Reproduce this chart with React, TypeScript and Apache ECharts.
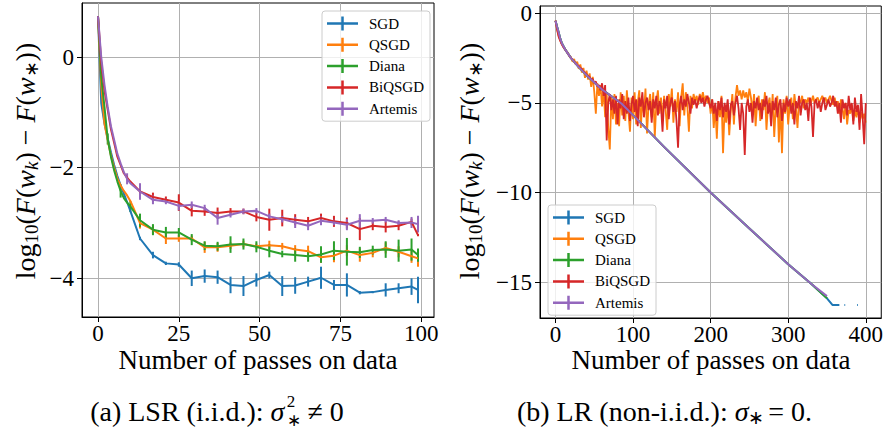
import React, { useEffect, useRef } from 'react';
import * as echarts from 'echarts';

const names = ['SGD', 'QSGD', 'Diana', 'BiQSGD', 'Artemis'];
const colors = ['#1f77b4', '#ff7f0e', '#2ca02c', '#d62728', '#9467bd'];

// ---------- (a) LSR (i.i.d.) ----------
const passesA = [0, 1, 2, 3, 4, 5, 6, 7, 8, 9, 10, 13, 17, 21, 25, 29, 33, 37, 41, 45, 49, 53, 57, 61, 65, 69, 73, 77, 81, 85, 89, 93, 97, 99];
const sgdA = [0.74, -0.83, -1.2, -1.47, -1.72, -1.95, -2.15, -2.32, -2.47, -2.62, -2.78, -3.28, -3.58, -3.73, -3.75, -4.0, -3.96, -3.98, -4.12, -4.14, -4.03, -3.94, -4.14, -4.13, -4.06, -3.99, -4.12, -4.12, -4.26, -4.25, -4.21, -4.18, -4.15, -4.21];
const sgdErrA = [0, 0, 0, 0, 0, 0, 0, 0, 0, 0, 0, 0.03, 0.06, 0.03, 0.04, 0.14, 0.12, 0.12, 0.15, 0.18, 0.12, 0.06, 0.18, 0.15, 0.09, 0.2, 0.09, 0.21, 0.03, 0.02, 0.12, 0.09, 0.15, 0.24];
const qsgdA = [0.74, -0.5, -1.2, -1.5, -1.78, -2.0, -2.2, -2.32, -2.42, -2.5, -2.6, -3.0, -3.12, -3.28, -3.28, -3.28, -3.44, -3.44, -3.41, -3.38, -3.42, -3.4, -3.42, -3.48, -3.51, -3.62, -3.59, -3.5, -3.58, -3.54, -3.45, -3.52, -3.6, -3.64];
const qsgdErrA = [0, 0, 0, 0, 0, 0, 0, 0, 0, 0, 0, 0.1, 0.08, 0.1, 0.06, 0.05, 0.1, 0.08, 0.06, 0.06, 0.05, 0.08, 0.06, 0.08, 0.1, 0.1, 0.12, 0.1, 0.12, 0.08, 0.1, 0.1, 0.12, 0.15];
const dianaA = [0.74, -0.35, -0.9, -1.48, -1.8, -2.05, -2.25, -2.42, -2.55, -2.63, -2.7, -2.95, -3.12, -3.17, -3.17, -3.3, -3.41, -3.42, -3.39, -3.38, -3.43, -3.5, -3.56, -3.58, -3.6, -3.57, -3.5, -3.52, -3.53, -3.49, -3.48, -3.5, -3.48, -3.58];
const dianaErrA = [0, 0, 0, 0.1, 0, 0, 0, 0.12, 0, 0, 0.1, 0.12, 0.1, 0.1, 0.08, 0.1, 0.08, 0.08, 0.15, 0.1, 0.1, 0.12, 0.06, 0.12, 0.1, 0.15, 0.17, 0.25, 0.1, 0.08, 0.15, 0.2, 0.2, 0.12];
const biqsgdA = [0.74, -0.1, -0.6, -0.95, -1.3, -1.55, -1.8, -1.95, -2.1, -2.18, -2.25, -2.43, -2.53, -2.58, -2.63, -2.78, -2.79, -2.82, -2.79, -2.79, -2.89, -2.94, -2.91, -2.94, -2.97, -2.91, -2.97, -3.0, -3.11, -3.05, -3.07, -3.05, -2.98, -3.22];
const biqsgdErrA = [0, 0, 0, 0, 0, 0, 0, 0, 0, 0, 0, 0.1, 0.08, 0.06, 0.15, 0.1, 0.08, 0.1, 0.06, 0.05, 0.08, 0.2, 0.15, 0.1, 0.08, 0.08, 0.1, 0.1, 0.2, 0.08, 0.1, 0.08, 0.06, 0.02];
const artemisA = [0.74, 0.0, -0.5, -0.9, -1.25, -1.5, -1.75, -1.92, -2.08, -2.2, -2.28, -2.43, -2.58, -2.61, -2.69, -2.67, -2.73, -2.91, -2.85, -2.79, -2.78, -2.88, -2.93, -2.99, -3.05, -2.96, -2.99, -3.03, -2.96, -2.96, -2.94, -3.0, -2.99, -3.02];
const artemisErrA = [0, 0, 0, 0, 0, 0, 0, 0, 0, 0.1, 0, 0.15, 0.08, 0.05, 0.08, 0.06, 0.06, 0.12, 0.05, 0.05, 0.05, 0.05, 0.06, 0.1, 0.08, 0.08, 0.05, 0.1, 0.12, 0.05, 0.05, 0.05, 0.1, 0.15];
const xTicksA = [0, 25, 50, 75, 100];
const yTicksA = [-4, -2, 0];

// ---------- (b) LR (non-i.i.d.) ----------
const passesB = [0, 2, 4, 6, 8, 12, 20, 30, 42, 60, 85, 100, 140, 200, 250, 300, 330, 350];
const dianaB = [-0.41, -0.75, -1.05, -1.4, -1.65, -1.98, -2.5, -3.0, -3.54, -4.25, -5.03, -5.68, -7.45, -10.0, -12.0, -14.0, -15.1, -15.9];
const artemisB = [-0.41, -0.75, -1.05, -1.4, -1.65, -1.98, -2.5, -3.0, -3.54, -4.25, -5.03, -5.68, -7.45, -10.0, -12.0, -14.0, -15.1, -15.78];
const passesSgdB = [0, 2, 4, 6, 8, 12, 20, 30, 42, 60, 85, 100, 140, 200, 250, 300, 330, 350, 357, 366, 369, 372.5, 373.5, 380, 389, 390];
const sgdB = [-0.41, -0.75, -1.05, -1.4, -1.65, -1.98, -2.5, -3.0, -3.54, -4.25, -5.03, -5.68, -7.45, -10.0, -12.0, -14.0, -15.1, -15.9, -16.27, -16.27, null, -16.27, -16.27, null, -16.27, -16.27];
const noisyStepB = 2; // passes between logged values of QSGD / BiQSGD (0..400)
const qsgdB = [
  -0.41, -0.88, -1.25, -1.5, -1.7, -1.85, -1.98, -2.1, -2.2, -2.38,
  -2.45, -2.7, -2.55, -2.85, -2.7, -3.1, -2.85, -3.3, -3.05, -3.6,
  -3.2, -3.7, -3.35, -4.1, -3.55, -4.4, -5.6, -3.9, -4.6, -4.0,
  -5.2, -4.2, -5.8, -4.5, -6.4, -7.6, -4.6, -5.9, -4.5, -6.2,
  -5.0, -6.3, -4.4, -5.7, -4.6, -6.0, -4.3, -5.5, -6.6, -4.7,
  -5.9, -4.4, -6.2, -5.0, -4.3, -6.4, -4.8, -5.6, -4.2, -6.7,
  -5.1, -4.5, -5.8, -4.4, -6.9, -5.0, -4.3, -5.6, -4.7, -6.0,
  -4.6, -5.4, -6.5, -4.5, -5.2, -4.2, -6.1, -4.8, -5.5, -4.4,
  -6.3, -4.7, -3.9, -5.7, -4.4, -5.2, -6.6, -4.6, -5.3, -4.5,
  -4.9, -4.6, -5.1, -4.5, -4.8, -4.4, -4.9, -4.6, -5.0, -4.7,
  -5.6, -4.8, -6.4, -5.2, -7.0, -4.9, -5.8, -4.6, -7.8, -5.3,
  -6.1, -5.0, -6.8, -5.4, -4.5, -6.2, -4.7, -4.0, -4.6, -4.3,
  -4.8, -4.3, -4.7, -4.4, -4.9, -4.2, -4.7, -5.5, -4.5, -6.3,
  -5.0, -4.6, -6.0, -4.8, -5.4, -4.4, -6.5, -5.1, -4.7, -5.8,
  -4.5, -6.9, -5.2, -4.6, -7.2, -5.0, -7.8, -4.8, -5.6, -4.6,
  -6.2, -5.1, -4.7, -5.9, -4.5, -5.3, -6.4, -4.8, -5.0, -4.6,
  -5.3, -4.8, -5.0, -4.7, -5.1, -4.9, -4.6, -5.0, -4.8, -4.7,
  -5.0, -4.8, -4.6, -4.9, -4.7, -5.0, -4.8, -4.6, -4.9, -5.1,
  -4.7, -5.2, -4.9, -5.6, -4.8, -5.3, -5.9, -5.0, -6.2, -5.4,
  -5.6, -5.1, -6.0, -5.4, -5.8, -5.2, -6.1, -5.5, -5.9, -5.6,
  -6.1,
];
const biqsgdB = [
  -0.41, -0.9, -1.3, -1.52, -1.72, -1.88, -2.0, -2.12, -2.25, -2.38,
  -2.5, -2.6, -2.68, -2.8, -2.88, -2.95, -3.05, -3.1, -3.25, -3.3,
  -3.42, -3.5, -3.55, -3.7, -3.65, -3.9, -3.8, -4.1, -4.0, -4.3,
  -3.9, -4.6, -4.0, -7.1, -5.0, -4.5, -5.4, -4.8, -5.6, -4.6,
  -6.2, -4.8, -5.3, -4.5, -5.9, -4.9, -5.6, -4.7, -6.0, -5.1,
  -4.6, -5.5, -4.8, -6.3, -4.7, -5.2, -4.4, -5.8, -5.0, -4.7,
  -5.4, -4.9, -6.1, -4.8, -5.3, -4.6, -5.7, -4.9, -5.2, -6.6,
  -4.8, -5.3, -4.6, -5.9, -5.0, -4.7, -5.5, -4.9, -6.0, -7.5,
  -5.1, -4.6, -5.4, -4.8, -5.2, -4.5, -5.0, -5.6, -4.7, -5.1,
  -4.8, -5.3, -4.9, -4.6, -5.0, -4.7, -5.2, -4.8, -4.6, -5.0,
  -5.3, -4.8, -5.6, -5.0, -6.0, -4.9, -5.4, -4.7, -5.8, -5.0,
  -5.5, -4.8, -6.2, -5.1, -4.9, -5.7, -5.0, -4.6, -5.3, -6.5,
  -5.0, -5.6, -7.9, -5.2, -4.8, -5.5, -5.0, -6.1, -4.9, -5.3,
  -4.7, -5.4, -5.0, -5.9, -4.8, -5.2, -4.6, -5.6, -5.0, -6.3,
  -4.9, -5.4, -4.7, -5.8, -5.1, -4.8, -6.0, -5.0, -5.5, -4.7,
  -5.2, -4.8, -5.6, -5.0, -6.2, -4.9, -5.3, -4.6, -5.7, -5.0,
  -4.8, -5.4, -5.0, -6.0, -4.7, -5.2, -6.9, -5.0, -4.8, -5.3,
  -4.9, -5.5, -5.0, -4.7, -5.4, -5.1, -4.8, -5.2, -5.0, -4.6,
  -5.2, -4.9, -5.6, -5.0, -6.1, -4.8, -5.3, -5.0, -5.7, -4.6,
  -5.4, -5.0, -6.2, -4.7, -5.5, -5.1, -6.5, -4.5, -5.8, -7.3,
  -5.0,
];
const xTicksB = [0, 100, 200, 300, 400];
const yTicksB = [-15, -10, -5, 0];

const SERIF = 'Liberation Serif';

function fmt(v: number) {
  return v < 0 ? '\u2212' + Math.abs(v) : String(v);
}

function measure(text: string, font: string) {
  const c = document.createElement('canvas').getContext('2d') as CanvasRenderingContext2D;
  c.font = font;
  return c.measureText(text).width;
}

function lineSeries(name: string, xs: number[], ys: (number | null)[], color: string, idx: number, width = 2) {
  return {
    name,
    type: 'line',
    xAxisIndex: idx,
    yAxisIndex: idx,
    data: xs.map((x, i) => [x, ys[i] === null ? null : ys[i]]),
    showSymbol: false,
    symbol: 'none',
    connectNulls: false,
    lineStyle: { color, width },
    itemStyle: { color },
    silent: true,
  };
}

function errSeries(xs: number[], ys: number[], es: number[], color: string, idx: number) {
  const data: number[][] = [];
  xs.forEach((x, i) => {
    if (es[i] > 0) data.push([x, ys[i], es[i]]);
  });
  return {
    type: 'custom',
    xAxisIndex: idx,
    yAxisIndex: idx,
    silent: true,
    data,
    encode: { x: 0, y: 1 },
    renderItem: (_p: any, api: any) => {
      const x = api.value(0);
      const y = api.value(1);
      const e = api.value(2);
      const a = api.coord([x, y + e]);
      const b = api.coord([x, y - e]);
      return {
        type: 'line',
        shape: { x1: a[0], y1: a[1], x2: b[0], y2: b[1] },
        style: { stroke: color, lineWidth: 2 },
      };
    },
  };
}

function xAxisOf(idx: number, min: number, max: number, ticks: number[]) {
  return {
    type: 'value',
    gridIndex: idx,
    min,
    max,
    axisLine: { show: true, onZero: false, lineStyle: { color: '#000', width: 1 } },
    axisTick: { show: true, length: 5, customValues: ticks, lineStyle: { color: '#000', width: 1 } },
    splitLine: { show: true, lineStyle: { color: '#b0b0b0', width: 1 } },
    axisLabel: { customValues: ticks, formatter: fmt, fontFamily: SERIF, fontSize: 23, color: '#000', margin: 5 },
  };
}

function yAxisOf(idx: number, min: number, max: number, ticks: number[]) {
  return {
    type: 'value',
    gridIndex: idx,
    min,
    max,
    axisLine: { show: true, onZero: false, lineStyle: { color: '#000', width: 1 } },
    axisTick: { show: true, length: 5, customValues: ticks, lineStyle: { color: '#000', width: 1 } },
    splitLine: { show: true, lineStyle: { color: '#b0b0b0', width: 1 } },
    axisLabel: { customValues: ticks, formatter: fmt, fontFamily: SERIF, fontSize: 23, color: '#000', margin: 8 },
  };
}

const plusIcon = 'path://M0,5.75 H14.25 V0 H16.75 V5.75 H31 V8.25 H16.75 V14 H14.25 V8.25 H0 Z';

function legendAt(left: number, top: number) {
  return {
    data: names,
    orient: 'vertical',
    left,
    top,
    icon: plusIcon,
    itemWidth: 31,
    itemHeight: 14,
    itemGap: 6.3,
    padding: [5, 6, 5, 5],
    backgroundColor: 'rgba(255,255,255,0.8)',
    borderColor: '#cccccc',
    borderWidth: 1,
    borderRadius: 3,
    selectedMode: false,
    itemStyle: { borderWidth: 0 },
    textStyle: { fontFamily: SERIF, fontSize: 15, color: '#000', padding: [0, 0, 0, 6] },
  };
}

function yLabel(x: number, y: number) {
  const n = { fontFamily: SERIF, fontSize: 28, color: '#000' };
  const it = { fontFamily: SERIF, fontSize: 28, fontStyle: 'italic', color: '#000' };
  const s = { fontFamily: SERIF, fontSize: 19, color: '#000', padding: [13, 0, 0, 0] };
  const si = { fontFamily: SERIF, fontSize: 19, fontStyle: 'italic', color: '#000', padding: [13, 0, 0, 0] };
  return {
    type: 'text',
    x,
    y,
    rotation: Math.PI / 2,
    silent: true,
    style: {
      text: '{n|log}{s|10}{n|(}{i|F}{n|(}{i|w}{si|k}{n|) \u2212 }{i|F}{n|(}{i|w}{s|\u2217}{n|))}',
      rich: { n, i: it, s, si },
      align: 'center',
      verticalAlign: 'middle',
    },
  };
}

function plainText(x: number, y: number, text: string, size: number, opts: any = {}) {
  const italic = !!opts.italic;
  return {
    type: 'text',
    x,
    y,
    silent: true,
    style: {
      text,
      font: `${italic ? 'italic ' : ''}${size}px "${SERIF}"`,
      fontFamily: SERIF,
      fontSize: size,
      fontStyle: italic ? 'italic' : 'normal',
      lineHeight: opts.lineHeight,
      fill: '#000',
      align: opts.align || 'left',
      verticalAlign: 'middle',
    },
  };
}

type Piece = { t: string; size: number; italic?: boolean; dy: number; lineHeight?: number; w?: string };

function caption(cx: number, cy: number, pieces: Piece[]) {
  const fontOf = (p: Piece) => `${p.italic ? 'italic ' : ''}${p.size}px "${SERIF}"`;
  const widths = pieces.map((p) => measure(p.w || p.t, fontOf(p)));
  const xs: number[] = [];
  let cur = 0;
  pieces.forEach((_, i) => {
    xs.push(cur);
    cur += widths[i];
  });
  const x0 = cx - cur / 2;
  return pieces.map((p, i) => plainText(x0 + xs[i], cy + p.dy, p.t, p.size, { italic: p.italic, lineHeight: p.lineHeight }));
}

export default function App() {
  const ref = useRef<HTMLDivElement>(null);

  useEffect(() => {
    document.body.style.margin = '0';
    if (!ref.current) return;
    const chart = echarts.init(ref.current, undefined, { renderer: 'svg' });

    const qPasses = qsgdB.map((_, i) => i * noisyStepB);
    const bPasses = biqsgdB.map((_, i) => i * noisyStepB);

    const seriesA: any[] = [];
    const dataA = [
      [sgdA, sgdErrA],
      [qsgdA, qsgdErrA],
      [dianaA, dianaErrA],
      [biqsgdA, biqsgdErrA],
      [artemisA, artemisErrA],
    ];
    dataA.forEach(([ys, es], k) => {
      seriesA.push(lineSeries(names[k], passesA, ys, colors[k], 0));
      seriesA.push(errSeries(passesA, ys, es, colors[k], 0));
    });

    const seriesB: any[] = [
      lineSeries('SGD', passesSgdB, sgdB, colors[0], 1),
      lineSeries('QSGD', qPasses, qsgdB, colors[1], 1, 1.8),
      lineSeries('Diana', passesB, dianaB, colors[2], 1),
      lineSeries('BiQSGD', bPasses, biqsgdB, colors[3], 1, 1.8),
      lineSeries('Artemis', passesB, artemisB, colors[4], 1),
    ];

    const graphics: any[] = [
      yLabel(25, 161),
      yLabel(469, 161),
      plainText(258, 360, 'Number of passes on data', 27, { align: 'center' }),
      plainText(711, 360, 'Number of passes on data', 27, { align: 'center' }),
      ...caption(217, 411, [
        { t: '(a) LSR (i.i.d.): ', size: 28, dy: 0 },
        { t: '\u03c3', size: 28, italic: true, dy: 0, w: '\u03c3\u200a' },
        { t: '2\n\u2217', size: 17, dy: 0, lineHeight: 19, w: '\u2217\u2009\u2009' },
        { t: '\u2260 0', size: 28, dy: 0 },
      ]),
      ...caption(664.5, 411, [
        { t: '(b) LR (non-i.i.d.): ', size: 28, dy: 0 },
        { t: '\u03c3', size: 28, italic: true, dy: 0 },
        { t: '\u2217', size: 19, dy: 6, w: '\u2217\u2009' },
        { t: '= 0.', size: 28, dy: 0 },
      ]),
    ];

    chart.setOption({
      animation: false,
      backgroundColor: '#ffffff',
      grid: [
        { left: 82, top: 3, width: 352, height: 314, show: true, borderColor: '#000', borderWidth: 1, backgroundColor: 'transparent' },
        { left: 540, top: 6, width: 342, height: 312, show: true, borderColor: '#000', borderWidth: 1, backgroundColor: 'transparent' },
      ],
      xAxis: [xAxisOf(0, -4.95, 103.95, xTicksA), xAxisOf(1, -20, 420, xTicksB)],
      yAxis: [yAxisOf(0, -4.7, 0.98, yTicksA), yAxisOf(1, -17.0, 0.41, yTicksB)],
      legend: [legendAt(322, 11), legendAt(548, 205)],
      series: [...seriesA, ...seriesB],
      graphic: graphics,
    });

    return () => chart.dispose();
  }, []);

  return <div ref={ref} style={{ width: 886, height: 429 }} />;
}
